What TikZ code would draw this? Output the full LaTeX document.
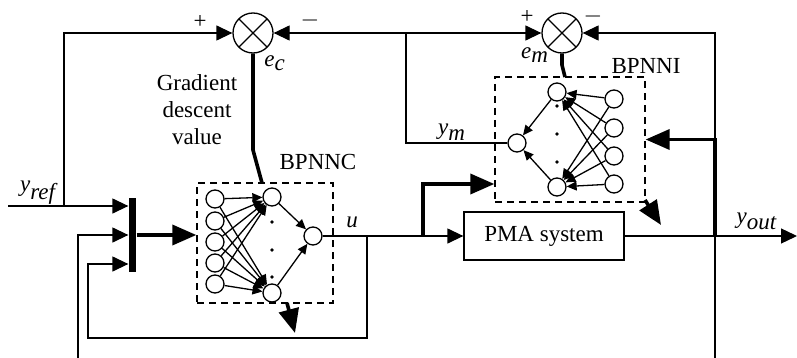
\documentclass[tikz,border=0pt]{standalone}
\usepackage{fontspec}
\setmainfont{Liberation Serif}
\usetikzlibrary{arrows.meta,calc}

\begin{document}
\begin{tikzpicture}[x=0.5pt,y=-0.5pt,line width=0.65pt,
 font=\fontsize{11.5}{13.5}\selectfont,
 sum/.style={circle,draw,minimum size=20pt,inner sep=0pt,
  path picture={\draw (path picture bounding box.north west)--(path picture bounding box.south east)
   (path picture bounding box.north east)--(path picture bounding box.south west);}},
 neuron/.style={circle,draw,minimum size=9pt,inner sep=0pt},
 netbox/.style={draw,dash pattern=on 3.5pt off 2.5pt,inner sep=0pt},
 plant/.style={draw,minimum width=80pt,minimum height=24pt},
 sig/.style={-{Triangle[length=8pt,width=7.5pt]}},
 bus/.style={line width=1.8pt,-{Triangle[length=12pt,width=10pt]}},
 syn/.style={-{Triangle[length=5pt,width=4.5pt]}}]
\useasboundingbox (0,0) rectangle (797,358);

% blocks
\node[sum] (sc) at (253,33) {};
\node[sum] (sm) at (562,33) {};
\node[netbox,minimum width=68pt,minimum height=60pt] (nnc) at (265,243) {};
\node[netbox,minimum width=75pt,minimum height=62.5pt] (nni) at (570,139.5) {};
\node[plant] (pma) at (544,236) {PMA system};
\node[fill,minimum width=3.5pt,minimum height=37pt,inner sep=0pt] (bar) at (132.5,235) {};

% BPNNC
\foreach \i/\y in {1/199,2/221,3/242,4/263,5/284} \node[neuron] (c\i) at (215,\y) {};
\node[neuron] (ch1) at (272,197) {};
\node[neuron] (ch2) at (272,293) {};
\node[neuron] (co) at (313,236) {};
\foreach \i in {1,...,5} {\draw[syn] (c\i)--(ch1); \draw[syn] (c\i)--(ch2);}
\draw[syn] (ch1)--(co); \draw[syn] (ch2)--(co);
\foreach \y in {222,250,277} \fill (272,\y) circle (0.9pt);

% BPNNI
\foreach \i/\y in {1/99,2/128,3/156,4/184} \node[neuron] (m\i) at (614,\y) {};
\node[neuron] (mh1) at (557,92) {};
\node[neuron] (mh2) at (557,187) {};
\node[neuron] (mo) at (517,143) {};
\foreach \i in {1,...,4} {\draw[syn] (m\i)--(mh1); \draw[syn] (m\i)--(mh2);}
\draw[syn] (mh1)--(mo); \draw[syn] (mh2)--(mo);
\foreach \y in {106,134,162} \fill (557,\y) circle (0.9pt);

% taps and ends
\coordinate (yref) at (8,206);
\coordinate (tapref) at (64,206);
\coordinate (tapm) at (406,33);
\coordinate (tapu1) at (367,236);
\coordinate (tapu2) at (423,236);
\coordinate (uin) at (423,184);
\coordinate (fbl) at (88,338);
\coordinate (fbin) at (88,264);
\coordinate (inbot) at (78,358);
\coordinate (tapout) at (715,236);
\coordinate (outbot) at (715,358);
\coordinate (yout) at (797,236);

% signals
\draw[sig] (yref)--(yref -| bar.west);
\draw[sig] (tapref) |- (sc.west);
\draw (mo.west) -| (tapm);
\draw[sig] (tapm)--(sc.east);
\draw[sig] (tapm)--(sm.west);
\draw[sig] (tapout) |- (sm.east);
\draw (tapout)--(outbot);
\draw[sig] (pma.east)--(yout);
\draw[sig] (co.east)--(pma.west);
\draw[sig] (tapu1) |- (fbl)--(fbin)--(fbin -| bar.west);
\draw[sig] (inbot) |- (bar.west);
\draw[bus] (bar.east)--(bar.east -| nnc.west);
\draw[bus] (tapu2)--(uin)--(uin -| nni.west);
\draw[bus] (tapout) |- (nni.east);

% learning paths
\draw[line width=1.8pt] (sc.south)--(253,150)--(262,183);
\draw[bus] (287,303)--(295,333);
\draw[line width=1.8pt] (sm.south)--(562,65)--(565,77);
\draw[bus] (645,200)--(661,225);

% labels
\node[align=center] at (197,110) {Gradient\\descent\\value};
\node at (275,63) {$\textit{e}_{\textit{c}}$};
\node at (535,55) {$\textit{e}_{\textit{m}}$};
\node at (318,162) {BPNNC};
\node at (646,66) {BPNNI};
\node at (352,222) {\textit{u}};
\node at (452,132) {$\textit{y}_{\textit{m}}$};
\node at (757,221) {$\textit{y}_{\textit{out}}$};
\node at (38,193) {$\textit{y}_{\textit{ref}}$};
\node at (200,22) {+};
\node at (310,21) {$-$};
\node at (527,17) {+};
\node at (593,17) {$-$};
\end{tikzpicture}
\end{document}
